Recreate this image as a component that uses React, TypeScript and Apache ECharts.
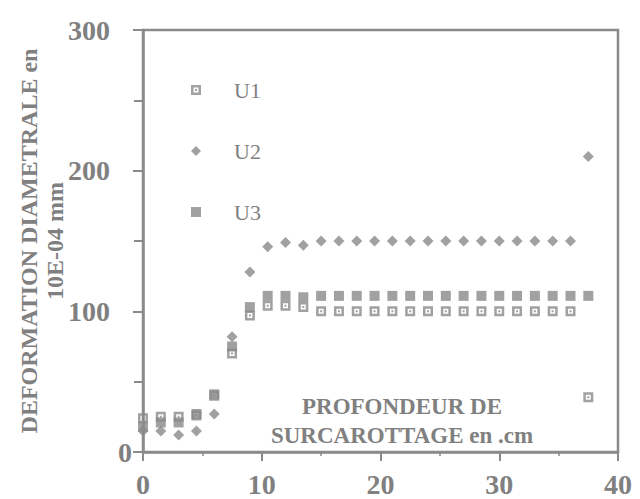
import React, { useEffect, useRef } from "react";
import * as echarts from "echarts";

const depth = [0, 1.5, 3, 4.5, 6, 7.5, 9, 10.5, 12, 13.5, 15, 16.5, 18, 19.5, 21, 22.5, 24, 25.5, 27, 28.5, 30, 31.5, 33, 34.5, 36, 37.5];
const u1 = [24, 25, 25, 26, 40, 70, 97, 104, 104, 103, 100, 100, 100, 100, 100, 100, 100, 100, 100, 100, 100, 100, 100, 100, 100, 39];
const u2 = [15, 15, 12, 15, 27, 82, 128, 146, 149, 147, 150, 150, 150, 150, 150, 150, 150, 150, 150, 150, 150, 150, 150, 150, 150, 210];
const u3 = [18, 21, 21, 27, 41, 75, 103, 111, 111, 110, 111, 111, 111, 111, 111, 111, 111, 111, 111, 111, 111, 111, 111, 111, 111, 111];
const seriesNames = ["U1", "U2", "U3"];
const yTicks = { min: 0, max: 300, interval: 100 };
const xTicks = { min: 0, max: 40, interval: 10 };
const yName = "DEFORMATION DIAMETRALE en\n10E-04 mm";
const noteLines = ["PROFONDEUR DE", "SURCAROTTAGE en .cm"];

const SERIF = "'Liberation Serif', 'Times New Roman', serif";
const GRAY = "#8a8a8a";
const TEXT = "#808080";
const U1_SYMBOL = "path://M0,0H10V10H0Z M2.5,2.5V7.5H7.5V2.5Z M4,4H6V6H4Z";

export default function App() {
  const ref = useRef<HTMLDivElement>(null);
  useEffect(() => {
    if (!ref.current) return;
    const chart = echarts.init(ref.current, undefined, { renderer: "svg" });
    const pts = (v: number[]) => depth.map((d, i) => [d, v[i]]);
    chart.setOption({
      animation: false,
      backgroundColor: "#ffffff",
      grid: {
        left: 143, right: 22, top: 30, bottom: 47,
        containLabel: false, outerBoundsMode: "none",
        show: true, borderColor: GRAY, borderWidth: 2.5,
      },
      legend: {
        orient: "vertical",
        left: 186,
        top: 73,
        itemWidth: 10,
        itemHeight: 10,
        itemGap: 37,
        data: seriesNames,
        textStyle: { fontFamily: SERIF, fontSize: 22, color: TEXT, lineHeight: 24, padding: [0, 0, 0, 28] },
      },
      xAxis: {
        type: "value",
        min: xTicks.min,
        max: xTicks.max,
        interval: xTicks.interval,
        axisLine: { lineStyle: { color: GRAY, width: 2.5 } },
        axisTick: { show: true, length: 9, lineStyle: { color: GRAY, width: 2 } },
        minorTick: { show: true, splitNumber: 2, length: 4, lineStyle: { color: GRAY, width: 1.5 } },
        splitLine: { show: false },
        axisLabel: { fontFamily: SERIF, fontWeight: "bold", fontSize: 28, color: TEXT, margin: 18, hideOverlap: false },
      },
      yAxis: {
        type: "value",
        min: yTicks.min,
        max: yTicks.max,
        interval: yTicks.interval,
        name: yName,
        nameLocation: "middle",
        nameGap: 75,
        nameMoveOverlap: false,
        nameTextStyle: { fontFamily: SERIF, fontWeight: "bold", fontSize: 24, color: TEXT, lineHeight: 26 },
        axisLine: { lineStyle: { color: GRAY, width: 2.5 } },
        axisTick: { show: true, length: 10, lineStyle: { color: GRAY, width: 2 } },
        minorTick: { show: true, splitNumber: 2, length: 9, lineStyle: { color: GRAY, width: 2 } },
        splitLine: { show: false },
        axisLabel: {
          fontFamily: SERIF,
          fontWeight: "bold",
          fontSize: 28,
          color: TEXT,
          margin: 11,
          formatter: (v: number) => (v === 0 ? "{z|0}" : "{n|" + v + "}"),
          rich: {
            z: { fontFamily: SERIF, fontWeight: "bold", fontSize: 28, color: TEXT },
            n: { fontFamily: SERIF, fontWeight: "bold", fontSize: 28, color: TEXT, padding: [0, 22, 0, 0] },
          },
        },
      },
      graphic: [
        {
          type: "text",
          x: 402,
          y: 406,
          style: { text: noteLines[0], fontFamily: SERIF, fontWeight: "bold", fontSize: 23, fill: TEXT, align: "center", verticalAlign: "middle" },
        },
        {
          type: "text",
          x: 402,
          y: 435,
          style: { text: noteLines[1], fontFamily: SERIF, fontWeight: "bold", fontSize: 23, fill: TEXT, align: "center", verticalAlign: "middle" },
        },
      ],
      series: [
        { name: seriesNames[1], type: "scatter", data: pts(u2), symbol: "diamond", symbolSize: 11, itemStyle: { color: GRAY } },
        { name: seriesNames[2], type: "scatter", data: pts(u3), symbol: "rect", symbolSize: 10, itemStyle: { color: GRAY } },
        { name: seriesNames[0], type: "scatter", data: pts(u1), symbol: U1_SYMBOL, symbolSize: 10, itemStyle: { color: GRAY } },
      ],
    });
    return () => chart.dispose();
  }, []);
  return <div ref={ref} style={{ position: "fixed", left: 0, top: 0, width: 640, height: 499 }} />;
}
